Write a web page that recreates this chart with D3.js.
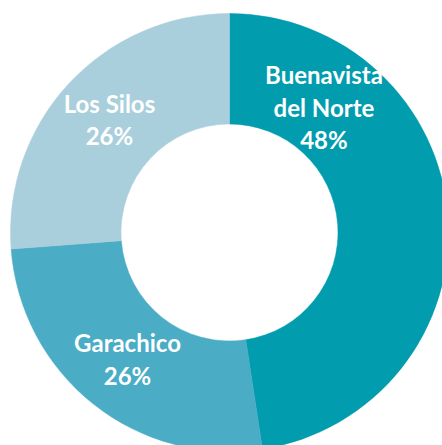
<!DOCTYPE html>
<html>
<head>
<meta charset="utf-8">
<script src="https://cdn.jsdelivr.net/npm/d3@7"></script>
<style>
  html, body { margin: 0; padding: 0; background: #fff; overflow: hidden; }
  svg { display: block; }
  .lbl { font-family: Lato, "Open Sans", sans-serif; font-weight: bold; fill: #fff; }
</style>
</head>
<body>
<svg id="chart" width="442" height="445"></svg>
<script>
// data
const categories = ["Buenavista del Norte", "Garachico", "Los Silos"];
const labelLines = [["Buenavista", "del Norte"], ["Garachico"], ["Los Silos"]];
const values = [47.6, 26.2, 26.2];
const colors = ["#019cae", "#4aacc5", "#a9cfdc"];

var svg = d3.select("#chart"),
  cx = 229.5,
  cy = 232.5,
  outerR = 219,
  innerR = 108.5,
  g = svg.append("g").attr("transform", "translate(" + cx + "," + cy + ")");

const total = d3.sum(values);
const data = categories.map((c, i) => ({ name: c, lines: labelLines[i], value: values[i], color: colors[i] }));

const pie = d3.pie().sort(null).value((d) => d.value);
const arc = d3.arc().innerRadius(innerR).outerRadius(outerR);

const arcs = pie(data);

g.selectAll("path.slice")
  .data(arcs)
  .enter()
  .append("path")
  .attr("class", "slice")
  .attr("d", arc)
  .attr("fill", (d) => d.data.color)
  .attr("stroke", (d) => d.data.color)
  .attr("stroke-width", 0.5);

// the first label was dragged in toward the top of its slice
const labelPos = (d, i) => {
  if (i === 0) {
    const a = (37.4 * Math.PI) / 180, r = 155.5;
    return [r * Math.sin(a), -r * Math.cos(a)];
  }
  return arc.centroid(d);
};

const fontSize = 24,
  lineH = 32.5;

g.selectAll("text.lbl")
  .data(arcs)
  .enter()
  .append("text")
  .attr("class", "lbl")
  .attr("font-size", fontSize)
  .attr("text-anchor", "middle")
  .each(function (d, i) {
    const p = labelPos(d, i);
    const lines = d.data.lines.concat([Math.round((d.data.value / total) * 100) + "%"]);
    const y0 = p[1] + 8 - ((lines.length - 1) * lineH) / 2;
    const t = d3.select(this);
    lines.forEach((ln, k) => {
      t.append("tspan").attr("x", p[0]).attr("y", y0 + k * lineH).text(ln);
    });
  });
</script>
</body>
</html>
